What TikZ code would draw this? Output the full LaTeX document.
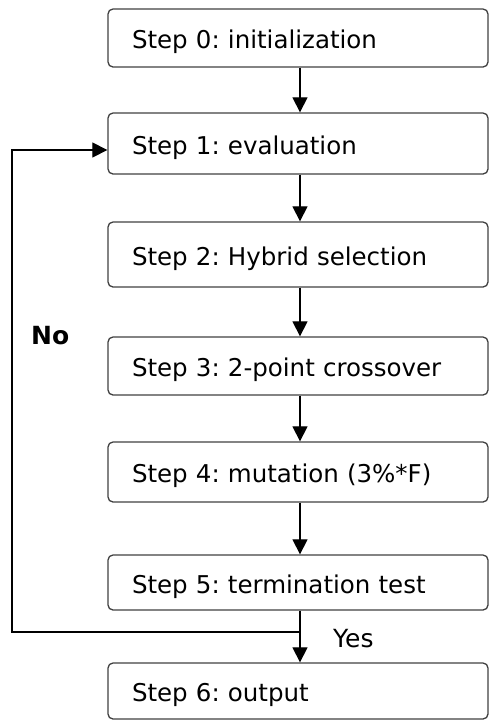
\documentclass[tikz,border=0pt]{standalone}
\usepackage{fontspec}
\setmainfont{DejaVu Sans}
\usetikzlibrary{arrows.meta}
\frenchspacing
\begin{document}
\begin{tikzpicture}[x=1pt,y=-1pt,
  stepbox/.style={draw=black!75, line width=1.3pt, rounded corners=5pt,
    text width=332pt, inner xsep=24pt, inner ysep=0pt, align=left,
    text height=24pt, text depth=3pt,
    font=\fontsize{24.5}{28}\selectfont\frenchspacing},
  arr/.style={draw=black, line width=1.2pt, -{Triangle[length=15pt,width=15pt]}},
  lbl/.style={inner sep=0pt, font=\fontsize{25}{30}\selectfont}]
\useasboundingbox (0,0) rectangle (490,721);
\node[stepbox, minimum height=58pt] (s0) at (298,38) {Step 0: initialization};
\node[stepbox, minimum height=61pt] (s1) at (298,143.5) {Step 1: evaluation};
\node[stepbox, minimum height=65pt] (s2) at (298,254.5) {Step 2: Hybrid selection};
\node[stepbox, minimum height=58pt] (s3) at (298,366) {Step 3: 2-point crossover};
\node[stepbox, minimum height=60pt] (s4) at (298,472) {Step 4: mutation (3\%*F)};
\node[stepbox, minimum height=55pt] (s5) at (298,582.5) {Step 5: termination test};
\node[stepbox, minimum height=56pt] (s6) at (298,691) {Step 6: output};
\draw[arr] (s0.south -| 300,0) -- (s1.north -| 300,0);
\draw[arr] (s1.south -| 300,0) -- (s2.north -| 300,0);
\draw[arr] (s2.south -| 300,0) -- (s3.north -| 300,0);
\draw[arr] (s3.south -| 300,0) -- (s4.north -| 300,0);
\draw[arr] (s4.south -| 300,0) -- (s5.north -| 300,0);
\draw[arr] (s5.south -| 300,0) -- (s6.north -| 300,0);
\coordinate (j) at (300,632);
\coordinate (c) at (12,632);
\coordinate (d) at (12,150);
\draw[arr] (j) -- (c) -- (d) -- (s1.west |- d);
\node[lbl, font=\fontsize{25}{30}\selectfont\bfseries, anchor=base west] (no) at (31,344) {No};
\node[lbl, anchor=base west] (yes) at (333,647) {Yes};
\end{tikzpicture}
\end{document}
